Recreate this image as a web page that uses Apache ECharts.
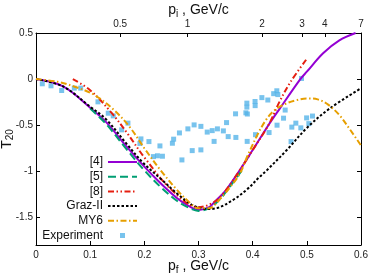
<!DOCTYPE html>
<html><head><meta charset="utf-8">
<script src="https://cdn.jsdelivr.net/npm/echarts@6/dist/echarts.min.js"></script>
<style>html,body{margin:0;padding:0;background:#fff}#c{width:374px;height:280px}</style>
</head><body><div id="c"></div>
<script>
// Bottom axis p_f (GeV/c), left axis T20
const yTicks = [-1.5, -1, -0.5, 0, 0.5];
// Top axis: p_i labels and their positions in p_f units
const piLabels = ['0.5', '1', '2', '3', '4', '7'];
const piPos = [0.1555, 0.2799, 0.4175, 0.4913, 0.5332, 0.6];

const seriesNames = ['[4]', '[5]', '[8]', 'Graz-II', 'MY6', 'Experiment'];

const line4 = [[0,0],[0.05,-0.08],[0.1,-0.31],[0.13,-0.47],[0.167,-0.73],[0.2,-0.95],[0.23,-1.13],[0.26,-1.29],[0.28,-1.37],[0.3,-1.42],[0.32,-1.39],[0.33,-1.33],[0.35,-1.21],[0.376,-0.99],[0.4,-0.77],[0.429,-0.5],[0.45,-0.32],[0.488,0],[0.5,0.08],[0.53,0.28],[0.56,0.42],[0.59,0.5]];
const line5 = [[0.1,-0.32],[0.13,-0.49],[0.167,-0.76],[0.2,-0.99],[0.23,-1.17],[0.26,-1.32],[0.28,-1.39],[0.3,-1.43],[0.32,-1.4],[0.34,-1.3],[0.36,-1.15],[0.38,-0.99]];
const line8 = [[0.068,0],[0.1,-0.12],[0.14,-0.37],[0.17,-0.6],[0.2,-0.85],[0.25,-1.2],[0.3,-1.39],[0.33,-1.33],[0.35,-1.21],[0.375,-1.0],[0.4,-0.77],[0.43,-0.49],[0.45,-0.24],[0.47,-0.03],[0.5,0.22]];
const lineGraz = [[0,0],[0.05,-0.08],[0.1,-0.3],[0.13,-0.44],[0.167,-0.7],[0.198,-0.91],[0.23,-1.08],[0.26,-1.24],[0.29,-1.37],[0.315,-1.41],[0.334,-1.4],[0.364,-1.31],[0.389,-1.2],[0.413,-1.06],[0.426,-0.99],[0.463,-0.77],[0.5,-0.53],[0.542,-0.32],[0.6,-0.1]];
const lineMY6 = [[0,0],[0.04,-0.03],[0.08,-0.1],[0.11,-0.18],[0.143,-0.33],[0.173,-0.52],[0.2,-0.75],[0.23,-0.99],[0.26,-1.2],[0.28,-1.32],[0.3,-1.4],[0.32,-1.4],[0.34,-1.3],[0.36,-1.16],[0.376,-1.03],[0.39,-0.84],[0.41,-0.59],[0.425,-0.44],[0.44,-0.34],[0.46,-0.27],[0.48,-0.23],[0.5,-0.21],[0.52,-0.22],[0.54,-0.28],[0.56,-0.39],[0.58,-0.55],[0.6,-0.72]];

const expX = [0.0116,0.0277,0.0474,0.0707,0.0825,0.1144,0.1334,0.1426,0.1581,0.1697,0.1937,0.1919,0.2085,0.2168,0.2242,0.2334,0.2288,0.2518,0.2541,0.2648,0.2804,0.2694,0.2919,0.3044,0.2884,0.3044,0.3161,0.3253,0.3349,0.3459,0.3288,0.3518,0.3548,0.3684,0.369,0.3893,0.3893,0.3875,0.3902,0.3899,0.4044,0.4046,0.417,0.428,0.4052,0.4303,0.4388,0.4446,0.4465,0.445,0.46,0.457,0.4723,0.4797,0.4709,0.4889,0.4996,0.5105,0.4902,0.5037];
const expT = [-0.051,-0.073,-0.124,-0.098,-0.098,-0.247,-0.37,-0.399,-0.551,-0.478,-0.649,-0.698,-0.678,-0.841,-0.832,-0.837,-0.725,-0.696,-0.652,-0.584,-0.54,-0.877,-0.497,-0.513,-0.776,-0.768,-0.575,-0.559,-0.54,-0.562,-0.676,-0.472,-0.624,-0.377,-0.633,-0.261,-0.304,-0.366,-0.379,-0.676,-0.243,-0.288,-0.201,-0.227,-0.603,-0.58,-0.158,-0.127,-0.168,-0.5,-0.336,-0.424,-0.521,-0.478,-0.678,-0.529,-0.421,-0.401,0.007,-0.483];

const FONT = 'Liberation Sans';
const chart = echarts.init(document.getElementById('c'), null, {renderer: 'canvas'});

function lineSeries(name, data, color, type) {
  return {
    name, type: 'line', data, symbol: 'none', showSymbol: false, smooth: 0.35,
    lineStyle: {color, width: 2, type}, itemStyle: {color},
    xAxisIndex: 0, yAxisIndex: 0, animation: false
  };
}

const legendData = seriesNames.map(n => n === 'Experiment'
  ? {name: n, icon: 'path://M0 0M29 5M12 0h5v5h-5z'}
  : {name: n, itemStyle: {opacity: 0}});

const option = {
  animation: false,
  grid: {left: 36, right: 13, top: 33, bottom: 35, containLabel: false, outerBoundsMode: 'none'},
  xAxis: [
    {
      type: 'value', min: 0, max: 0.6, interval: 0.1, position: 'bottom',
      name: '{a|p}{s|f}{a| , GeV/c}', nameLocation: 'middle', nameGap: 12, nameMoveOverlap: false,
      nameTextStyle: {rich: {a: {fontSize: 14, fontFamily: FONT, color: '#111'}, s: {fontSize: 10, fontFamily: FONT, color: '#111', padding: [8,0,0,0]}}},
      axisLine: {show: true, onZero: false, lineStyle: {color: '#000', width: 1}},
      axisTick: {show: true, inside: true, length: 4, lineStyle: {color: '#000'}},
      axisLabel: {fontSize: 10, color: '#222', fontFamily: FONT, margin: 5},
      splitLine: {show: false}
    },
    {
      type: 'value', min: 0, max: 0.6, position: 'top',
      name: '{a|p}{s|i}{a| , GeV/c}', nameLocation: 'middle', nameGap: 14, nameMoveOverlap: false,
      nameTextStyle: {rich: {a: {fontSize: 14, fontFamily: FONT, color: '#111'}, s: {fontSize: 10, fontFamily: FONT, color: '#111', padding: [8,0,0,0]}}},
      axisLine: {show: true, onZero: false, lineStyle: {color: '#000', width: 1}},
      axisTick: {show: true, inside: true, length: 4, customValues: piPos, lineStyle: {color: '#000'}},
      axisLabel: {fontSize: 10, color: '#222', fontFamily: FONT, margin: 4, customValues: piPos,
        formatter: function (v) {
          let best = 0;
          for (let i = 0; i < piPos.length; i++) if (Math.abs(piPos[i] - v) < Math.abs(piPos[best] - v)) best = i;
          return piLabels[best];
        }},
      splitLine: {show: false}
    }
  ],
  yAxis: [
    {
      type: 'value', min: -1.8, max: 0.5, position: 'left',
      name: '{a|T}{s|20}', nameLocation: 'middle', nameGap: 21, nameRotate: 90, nameMoveOverlap: false,
      nameTextStyle: {rich: {a: {fontSize: 14, lineHeight: 16, fontFamily: FONT, color: '#111'}, s: {fontSize: 10, lineHeight: 10, fontFamily: FONT, color: '#111', padding: [6,0,0,0]}}},
      axisLine: {show: true, onZero: false, lineStyle: {color: '#000', width: 1}},
      axisTick: {show: true, inside: true, length: 4, customValues: yTicks, lineStyle: {color: '#000'}},
      axisLabel: {fontSize: 10, color: '#222', fontFamily: FONT, margin: 3, customValues: yTicks},
      splitLine: {show: false}
    },
    {
      type: 'value', min: -1.8, max: 0.5, position: 'right',
      axisLine: {show: true, onZero: false, lineStyle: {color: '#000', width: 1}},
      axisTick: {show: true, inside: true, length: 4, customValues: yTicks, lineStyle: {color: '#000'}},
      axisLabel: {show: false, customValues: yTicks},
      splitLine: {show: false}
    }
  ],
  legend: {
    data: legendData, orient: 'vertical', align: 'right', right: 236, top: 156, padding: 0,
    itemWidth: 29, itemHeight: 5, itemGap: 2.7,
    textStyle: {fontSize: 12, fontFamily: FONT, color: '#111'}
  },
  series: [
    lineSeries('[4]', line4, '#9400d3', 'solid'),
    lineSeries('[5]', line5, '#009e73', [8, 4]),
    lineSeries('[8]', line8, '#e51e10', [6, 2.5, 1.5, 2.5, 1.5, 2.5]),
    lineSeries('Graz-II', lineGraz, '#000000', [2.5, 2]),
    lineSeries('MY6', lineMY6, '#e69f00', [6, 2.5, 1.5, 2.5]),
    {
      name: 'Experiment', type: 'scatter', symbol: 'rect', symbolSize: 5,
      data: expX.map((x, i) => [x, expT[i]]),
      itemStyle: {color: '#56b4e9'}, xAxisIndex: 0, yAxisIndex: 0, animation: false
    }
  ]
};
chart.setOption(option);
</script>
</body></html>
